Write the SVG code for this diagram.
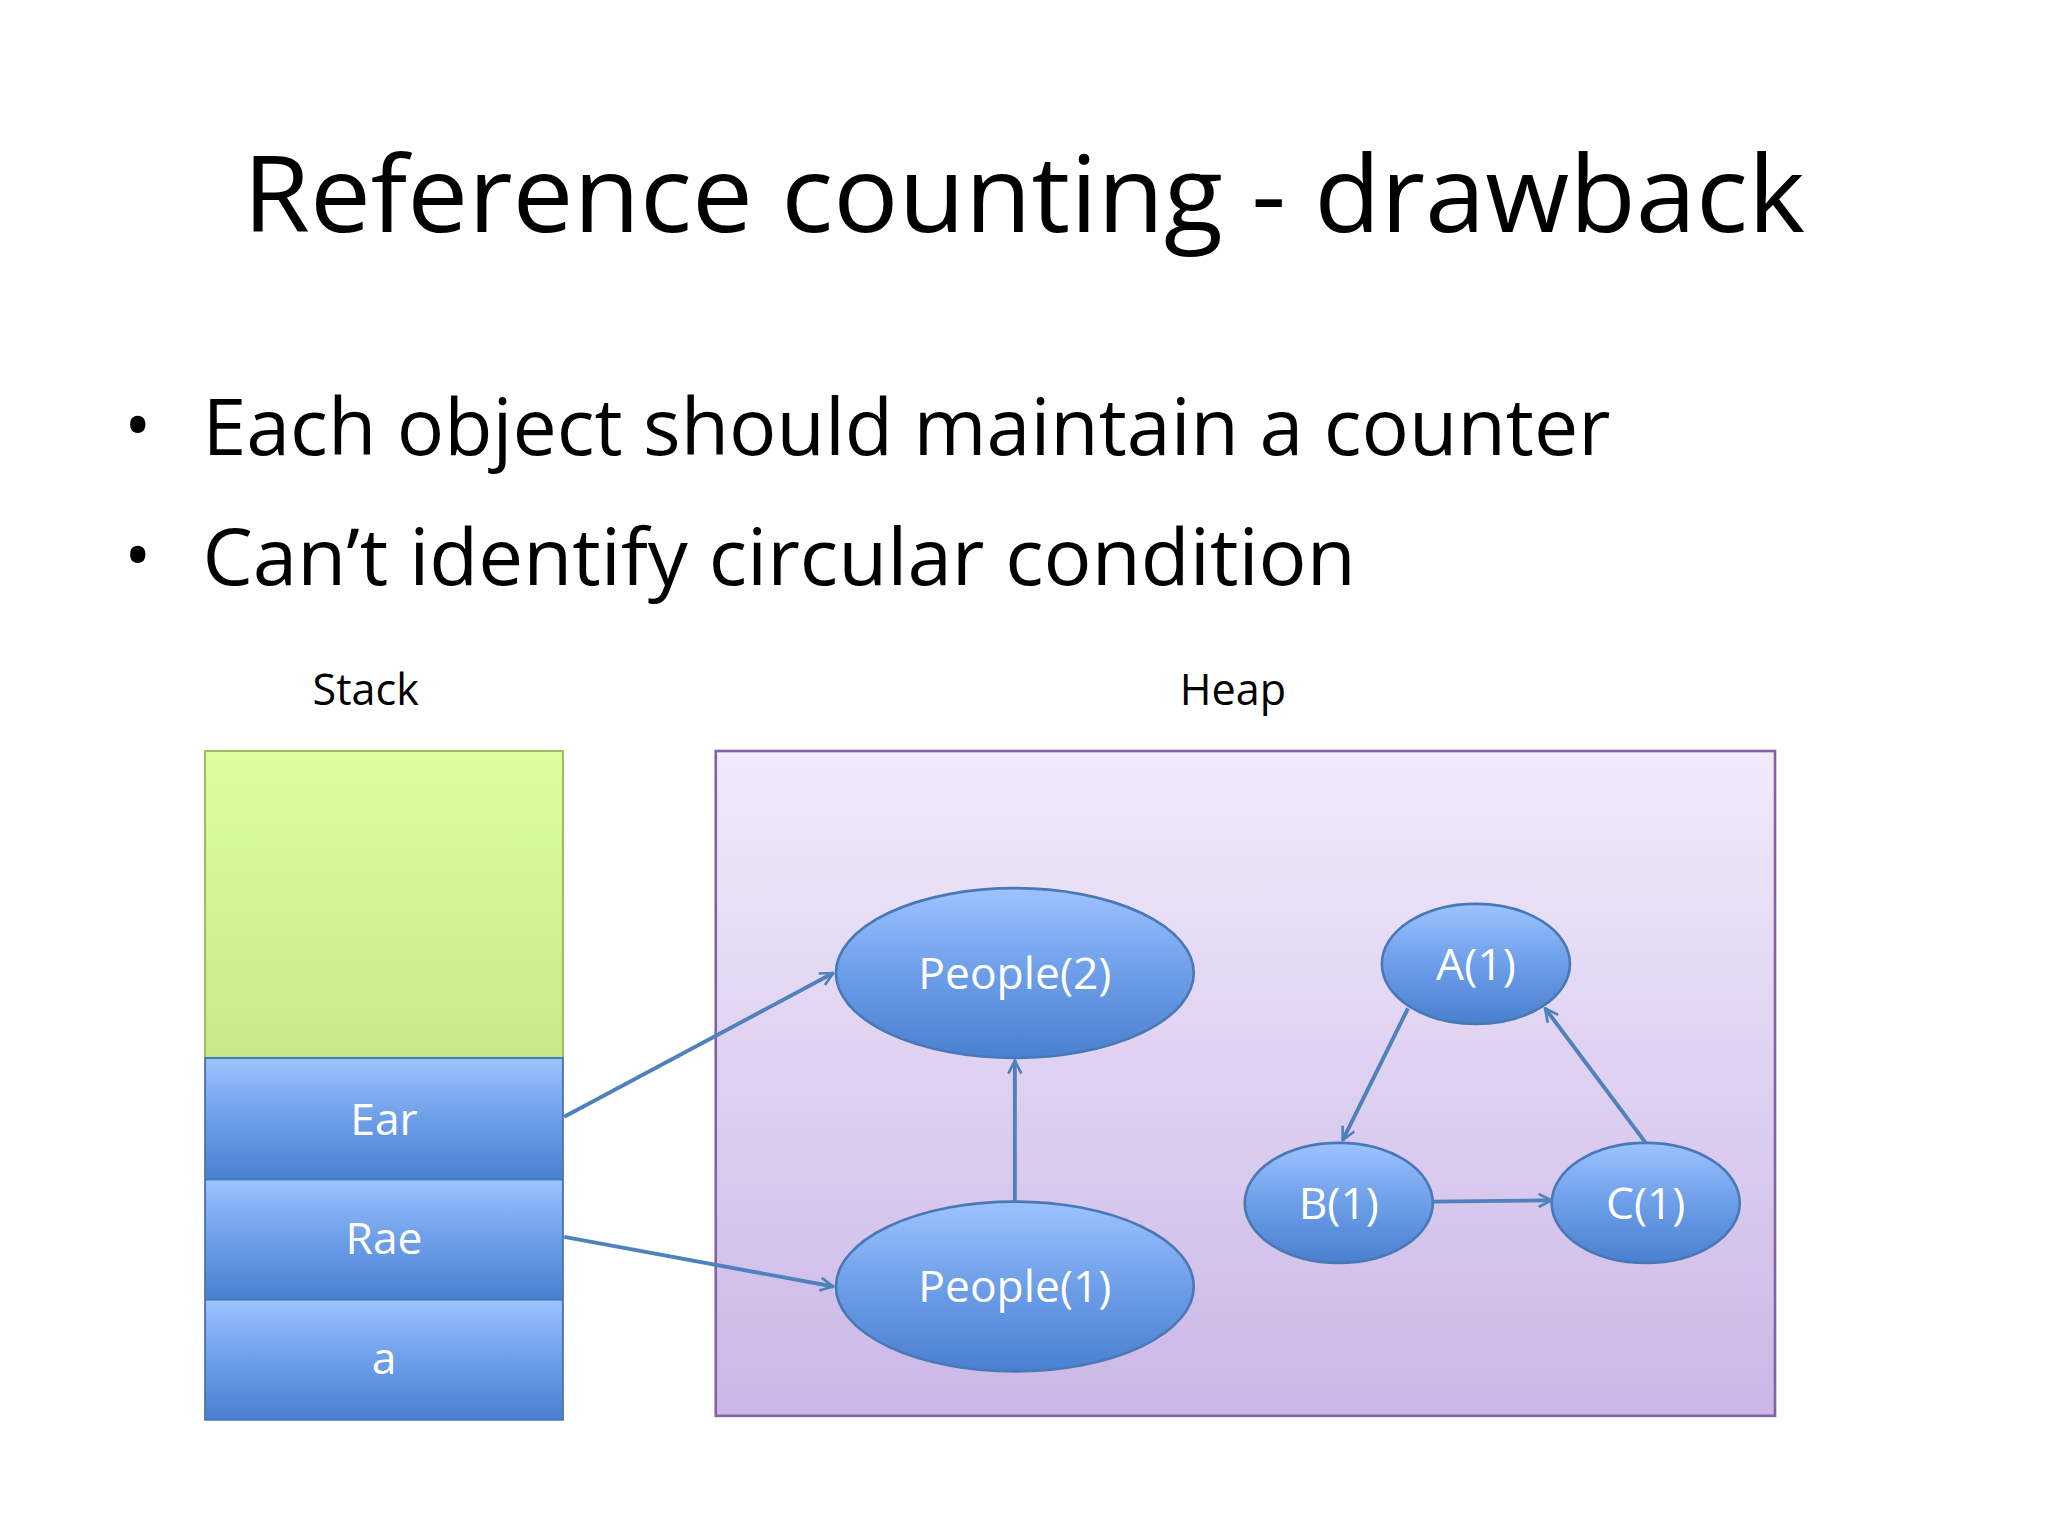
<svg xmlns="http://www.w3.org/2000/svg" width="2048" height="1536" viewBox="0 0 2048 1536">
<defs>
<linearGradient id="gGreen" x1="0" y1="0" x2="0" y2="1"><stop offset="0" stop-color="#dcff9c"/><stop offset="1" stop-color="#c7e98a"/></linearGradient>
<linearGradient id="gBlue" x1="0" y1="0" x2="0" y2="1"><stop offset="0" stop-color="#9cc3ff"/><stop offset="0.5" stop-color="#6d9ee8"/><stop offset="1" stop-color="#4a80d0"/></linearGradient>
<linearGradient id="gHeap" x1="0" y1="0" x2="0" y2="1"><stop offset="0" stop-color="#f1eafa"/><stop offset="1" stop-color="#cbb7e7"/></linearGradient>
<marker id="arr" viewBox="0 0 12 12" refX="11" refY="6" markerWidth="12" markerHeight="12" markerUnits="userSpaceOnUse" orient="auto"><path d="M1,1 L11,6 L1,11" fill="none" stroke="#4f81bd" stroke-width="2"/></marker>
</defs>
<style>
.t{font-family:"Open Sans","Noto Sans",sans-serif;fill:#000}
.w{font-family:"Open Sans","Noto Sans",sans-serif;fill:#fff;font-size:34px;text-anchor:middle}
.box{stroke:#4a78b5;stroke-width:1.5;fill:url(#gBlue)}
.ell{stroke:#4a78b5;stroke-width:2;fill:url(#gBlue)}
.c{stroke:#4f81bd;stroke-width:3;fill:none;marker-end:url(#arr)}
</style>
<rect width="2048" height="1536" fill="#fff"/>
<g transform="scale(1.30612)">
<g id="title"><text class="t" x="784" y="178" font-size="82" text-anchor="middle" textLength="1196" lengthAdjust="spacingAndGlyphs">Reference counting - drawback</text></g>
<g id="bullets">
<text class="t" x="95" y="345" font-size="56">•</text>
<text class="t" x="155" y="348" font-size="60" textLength="1078" lengthAdjust="spacingAndGlyphs">Each object should maintain a counter</text>
<text class="t" x="95" y="445" font-size="56">•</text>
<text class="t" x="155" y="448" font-size="60" textLength="883" lengthAdjust="spacingAndGlyphs">Can’t identify circular condition</text>
</g>
<g id="stack-label"><text class="t" x="280" y="540" font-size="33" text-anchor="middle">Stack</text></g>
<g id="heap-label"><text class="t" x="944" y="540" font-size="33" text-anchor="middle">Heap</text></g>
<g id="stack"><rect x="157" y="575" width="274" height="235" fill="url(#gGreen)" stroke="#9bbb59" stroke-width="1.5"/></g>
<g id="ear"><rect class="box" x="157" y="810" width="274" height="93"/><text class="w" x="294" y="869">Ear</text></g>
<g id="rae"><rect class="box" x="157" y="903" width="274" height="92"/><text class="w" x="294" y="960">Rae</text></g>
<g id="a"><rect class="box" x="157" y="995" width="274" height="92"/><text class="w" x="294" y="1052">a</text></g>
<g id="heap"><rect x="548" y="575" width="811" height="509" fill="url(#gHeap)" stroke="#8064a2" stroke-width="2"/></g>
<g id="people2"><ellipse class="ell" cx="777" cy="745" rx="137" ry="65"/><text class="w" x="777" y="757">People(2)</text></g>
<g id="people1"><ellipse class="ell" cx="777" cy="985" rx="137" ry="65"/><text class="w" x="777" y="997">People(1)</text></g>
<g id="A"><ellipse class="ell" cx="1130" cy="738" rx="72" ry="46"/><text class="w" x="1130" y="750">A(1)</text></g>
<g id="B"><ellipse class="ell" cx="1025" cy="921" rx="72" ry="46"/><text class="w" x="1025" y="933">B(1)</text></g>
<g id="C"><ellipse class="ell" cx="1260" cy="921" rx="72" ry="46"/><text class="w" x="1260" y="933">C(1)</text></g>
<g id="connectors">
<line class="c" x1="432" y1="855" x2="638" y2="745"/>
<line class="c" x1="432" y1="947" x2="638" y2="985"/>
<line class="c" x1="777" y1="920" x2="777" y2="812"/>
<line class="c" x1="1078" y1="772" x2="1028" y2="873"/>
<line class="c" x1="1260" y1="875" x2="1183" y2="772"/>
<line class="c" x1="1097" y1="920" x2="1188" y2="919"/>
</g>
</g>
</svg>
